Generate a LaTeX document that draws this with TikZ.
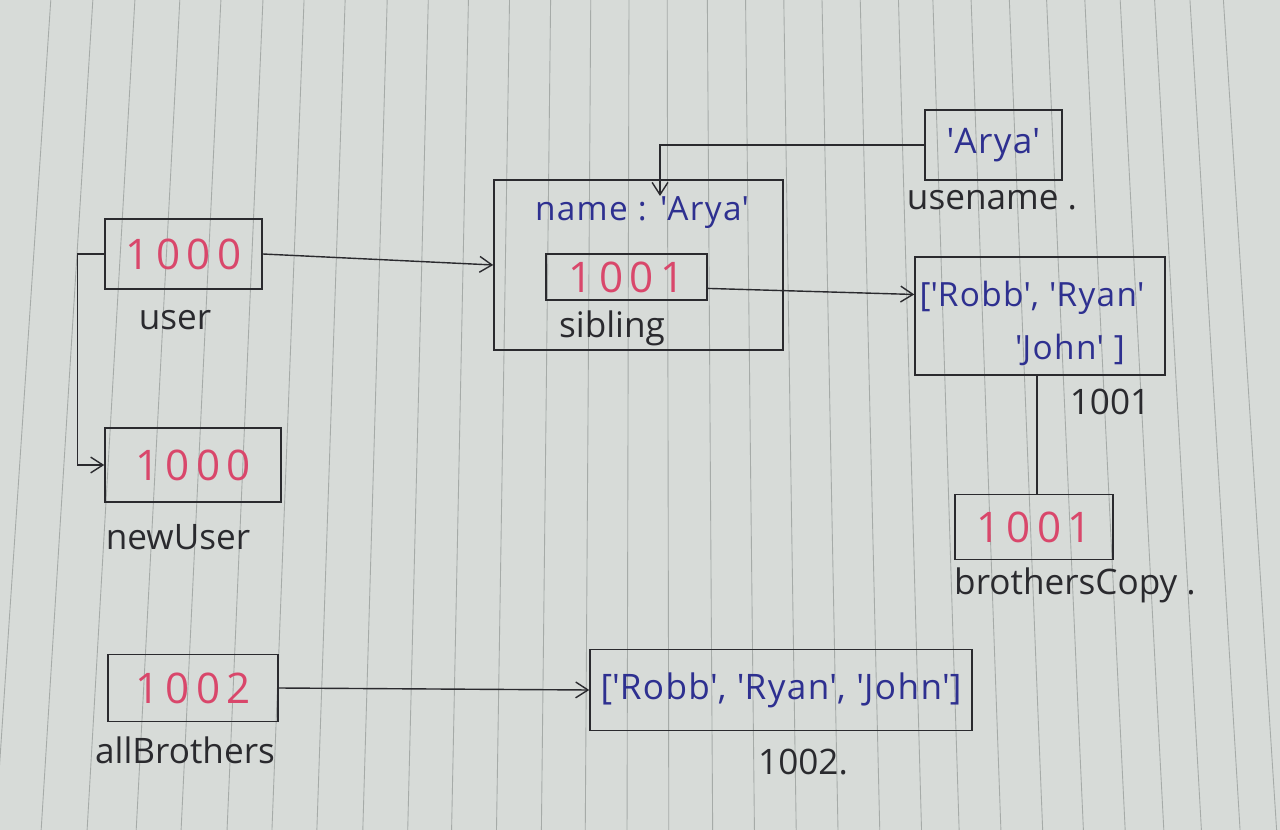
\documentclass[tikz,border=0pt]{standalone}
\usepackage{fontspec}
\setmainfont{Open Sans}
\newfontfamily\digitfont[LetterSpace=15]{Open Sans}
\newfontfamily\strfont[LetterSpace=4]{Open Sans}
\usetikzlibrary{arrows.meta,calc}
\definecolor{paper}{HTML}{D7DBD8}
\definecolor{rulec}{HTML}{7E8482}
\definecolor{ink}{HTML}{2A2A2E}
\definecolor{bink}{HTML}{2E3090}
\definecolor{rink}{HTML}{D9476B}
\newcommand{\q}{\textquotesingle}
\begin{document}
\begin{tikzpicture}[x=0.02cm,y=-0.02cm,
  box/.style={draw=ink, line width=0.9pt, inner sep=0pt},
  val/.style={text=rink, font=\digitfont\fontsize{24}{28}\selectfont},
  lab/.style={text=ink, font=\fontsize{20}{24}\selectfont, inner sep=1pt},
  str/.style={text=bink, font=\strfont\fontsize{20}{24}\selectfont, inner sep=1pt},
  strs/.style={text=bink, font=\strfont\fontsize{19}{23}\selectfont, inner sep=1pt},
  arr/.style={draw=ink, line width=0.8pt, -{Straight Barb[length=7pt,width=9pt]}},
  link/.style={draw=ink, line width=0.8pt}]
% paper
\fill[paper] (0,0) rectangle (1280,830);
\useasboundingbox (0,0) rectangle (1280,830);
\foreach \c in {23,67,111,158,201,245,288,331,375,418,460,503,546,588,628,668,710,750,790,830,870,910,946,986,1026,1065,1105,1142,1178,1215,1250}{
  \pgfmathsetmacro\s{0.00011*(\c-650)}
  \draw[rulec, line width=0.5pt, opacity=0.55] ({\c-\s*415},0) -- ({\c+\s*415},830);
}
% boxes with values
\node[box, val, minimum width=3.14cm, minimum height=1.4cm] (user) at (183.5,254) {1000};
\node[box, val, minimum width=3.52cm, minimum height=1.48cm] (newUser) at (193,465) {1000};
\node[box, val, minimum width=3.4cm, minimum height=1.34cm] (allBrothers) at (193,688) {1002};
\node[box, str, minimum width=7.64cm, minimum height=1.62cm] (list2) at (781,690) {[\q Robb\q, \q Ryan\q, \q John\q]};
\node[box, minimum width=5.78cm, minimum height=3.4cm] (obj) at (638.5,265) {};
\node[strs] (objname) at (642,213) {name : \q Arya\q};
\node[box, val, minimum width=3.22cm, minimum height=0.92cm] (sibling) at (626.5,277) {1001};
\node[box, minimum width=5.0cm, minimum height=2.36cm] (list1) at (1040,316) {};
\node[strs] (list1a) at (1032,298) {[\q Robb\q, \q Ryan\q};
\node[strs] (list1b) at (1070,350) {\q John\q{} ]};
\node[box, str, minimum width=2.74cm, minimum height=1.4cm] (username) at (993.5,145) {\q Arya\q};
\node[box, val, minimum width=3.16cm, minimum height=1.3cm] (brothersCopy) at (1034,527) {1001};
% labels
\node[lab] (luser) at (175,320) {user};
\node[lab] (lnewUser) at (178,537) {newUser};
\node[lab] (lallBrothers) at (185,750) {allBrothers};
\node[lab] (lsibling) at (612,328) {sibling};
\node[lab] (lusername) at (992,200) {usename .};
\node[lab] (l1001) at (1110,402) {1001};
\node[lab] (lbrothersCopy) at (1075,585) {brothersCopy .};
\node[lab] (l1002) at (803,762) {1002.};
% connectors
\draw[arr] (user.east) -- (obj.west);
\draw[arr] (user.west) -- ++(-27,0) |- (newUser.west);
\draw[arr] ($(sibling.north east)!0.74!(sibling.south east)$) -- ($(list1.north west)!0.32!(list1.south west)$);
\coordinate (nametip) at (660,196);
\draw[arr] (username.west) -| (nametip);
\draw[link] ([xshift=0.06cm]brothersCopy.north) -- ([xshift=0.06cm]brothersCopy.north |- list1.south);
\draw[arr] (allBrothers.east) -- (list2.west);
\end{tikzpicture}
\end{document}
